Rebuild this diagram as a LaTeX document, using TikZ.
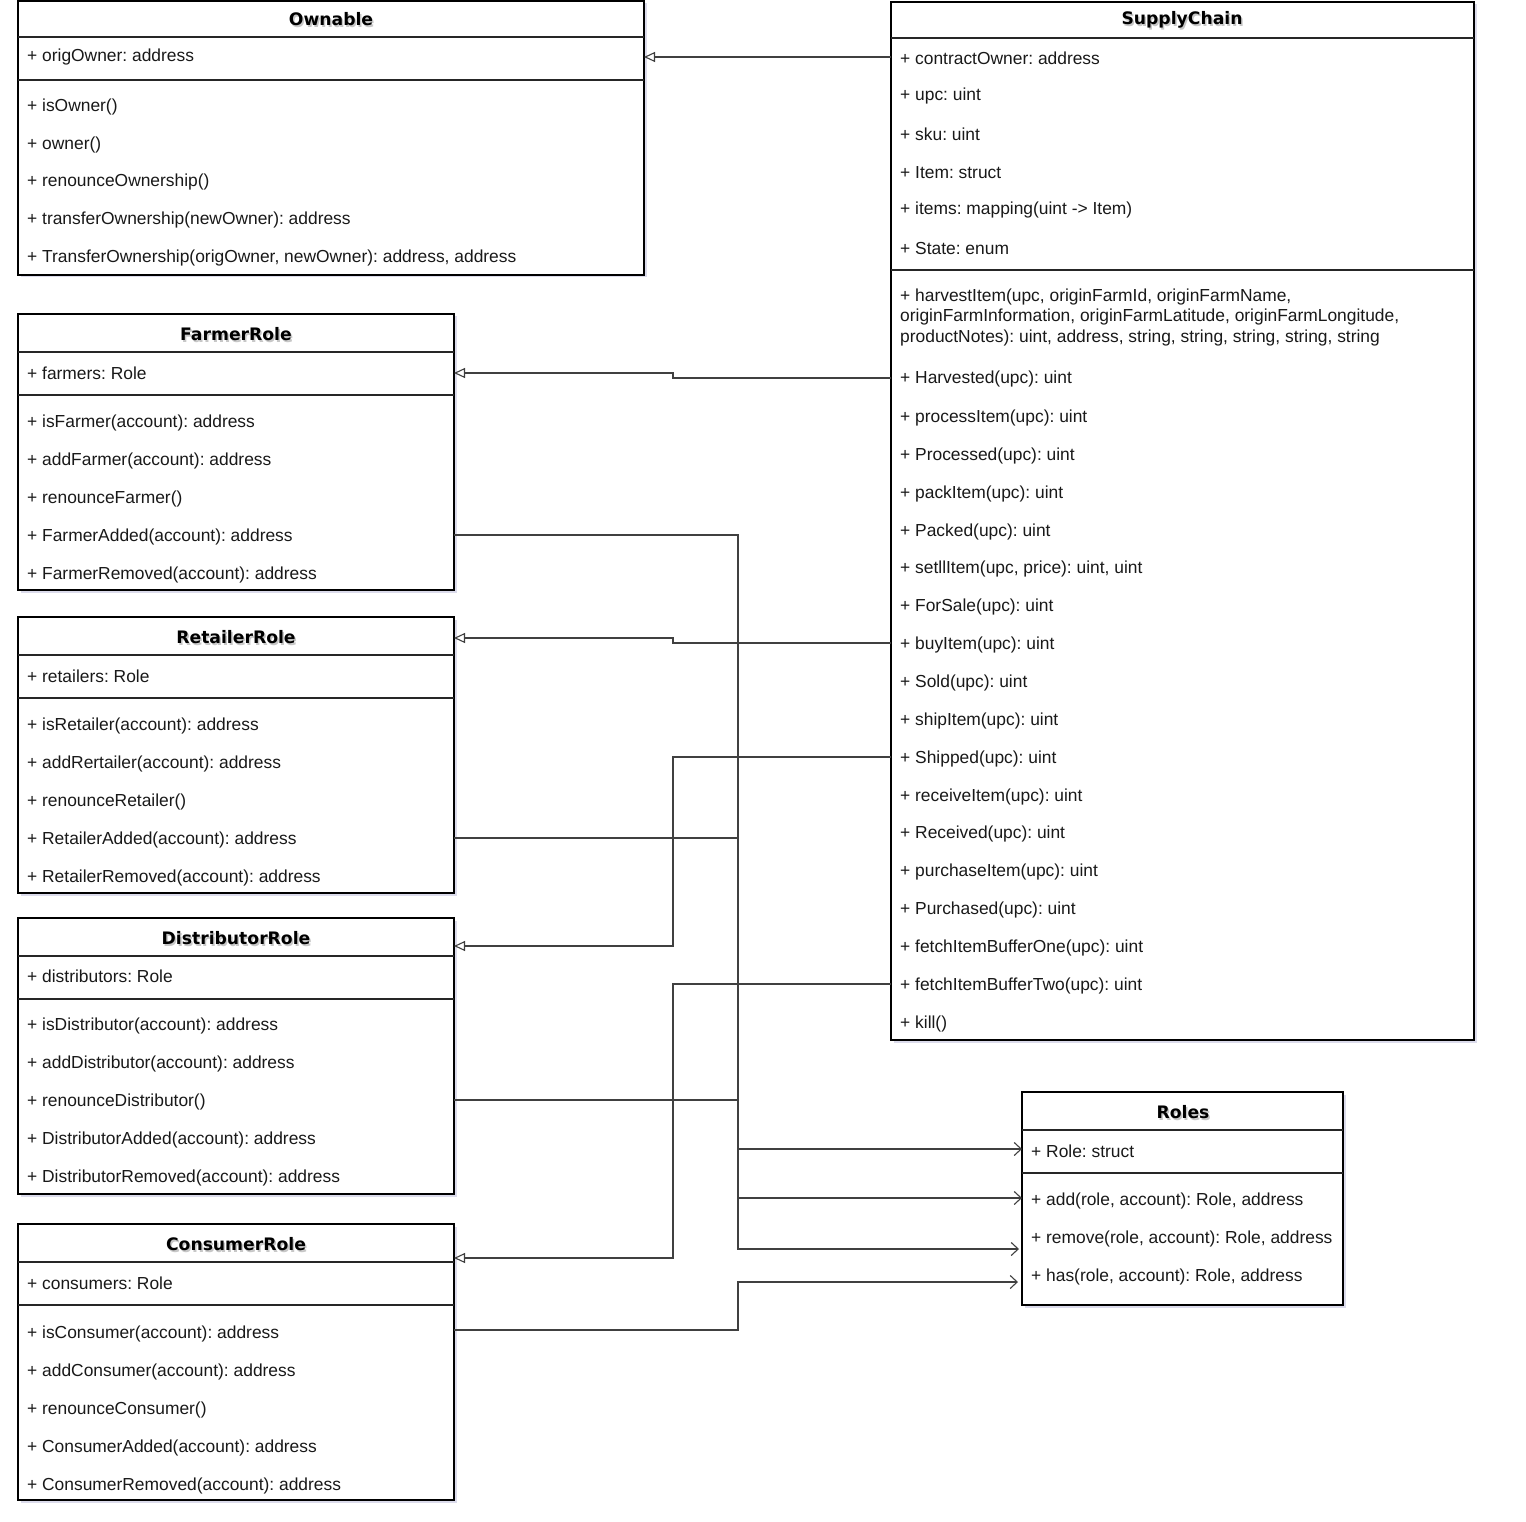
\documentclass[tikz,border=0pt]{standalone}
\usepackage{fontspec}
\setmainfont{Liberation Sans}
\newfontfamily\ttlfont{DejaVu Sans}
\usetikzlibrary{arrows.meta,shadows,calc}
\begin{document}
\begin{tikzpicture}[x=1pt,y=-1pt,
  box/.style={draw=black, line width=1.3pt, fill=white, inner sep=0pt, outer sep=0pt, anchor=north west,
    drop shadow={shadow xshift=2.5pt, shadow yshift=-2.5pt, opacity=0.22, fill=blue!30!gray}},
  txt/.style={anchor=west, inner sep=0pt, yshift=-1.5pt, align=left, text=black!90, font=\fontsize{17.4}{20.5}\selectfont\frenchspacing},
  ttl/.style={inner sep=0pt, font=\ttlfont\bfseries\fontsize{17.2}{20}\selectfont},
  ttlsh/.style={inner sep=0pt, text=black, opacity=0.22, font=\ttlfont\bfseries\fontsize{17.2}{20}\selectfont},
  sepl/.style={line width=1.2pt, draw=black!85},
  inh/.style={draw=black!75, line width=1.1pt, -{Triangle[open, length=11pt, width=10pt, line width=1.1pt]}},
  dep/.style={draw=black!75, line width=1.1pt, -{Straight Barb[length=7pt, width=13pt, line width=1.1pt]}}
]
\useasboundingbox (0,0) rectangle (1526,1522);
\coordinate (j1) at (673,0);
\coordinate (j2) at (738,0);

% ---------------- Ownable
\node[box, minimum width=626pt, minimum height=274pt] (own) at (18,1) {};
\node[ttlsh] (own-ts) at (332.5,21) {Ownable};
\node[ttl] (own-t) at (331,19) {Ownable};
\draw[sepl] (own.west |- 0,37) -- (own.east |- 0,37);
\draw[sepl] (own.west |- 0,80) -- (own.east |- 0,80);
\node[txt] (own-a1) at (27,56) {+ origOwner: address};
\node[txt] (own-m1) at (27,105) {+ isOwner()};
\node[txt] (own-m2) at (27,143) {+ owner()};
\node[txt] (own-m3) at (27,181) {+ renounceOwnership()};
\node[txt] (own-m4) at (27,219) {+ transferOwnership(newOwner): address};
\node[txt] (own-m5) at (27,257) {+ TransferOwnership(origOwner, newOwner): address, address};

% ---------------- SupplyChain
\node[box, minimum width=583pt, minimum height=1038pt] (sc) at (891,2) {};
\node[ttlsh] (sc-ts) at (1183.5,22) {SupplyChain};
\node[ttl] (sc-t) at (1182,20) {SupplyChain};
\draw[sepl] (sc.west |- 0,38) -- (sc.east |- 0,38);
\draw[sepl] (sc.west |- 0,270) -- (sc.east |- 0,270);
\node[txt] (sc-a1) at (900,57) {+ contractOwner: address};
\node[txt] (sc-a2) at (900,95) {+ upc: uint};
\node[txt] (sc-a3) at (900,133) {+ sku: uint};
\node[txt] (sc-a4) at (900,171) {+ Item: struct};
\node[txt] (sc-a5) at (900,209) {+ items: mapping(uint -> Item)};
\node[txt] (sc-a6) at (900,247) {+ State: enum};
\node[txt] (sc-m1) at (900,316) {+ harvestItem(upc, originFarmId, originFarmName,\\originFarmInformation, originFarmLatitude, originFarmLongitude,\\productNotes): uint, address, string, string, string, string, string};
\node[txt] (sc-m2) at (900,378) {+ Harvested(upc): uint};
\node[txt] (sc-m3) at (900,416) {+ processItem(upc): uint};
\node[txt] (sc-m4) at (900,454) {+ Processed(upc): uint};
\node[txt] (sc-m5) at (900,492) {+ packItem(upc): uint};
\node[txt] (sc-m6) at (900,530) {+ Packed(upc): uint};
\node[txt] (sc-m7) at (900,567) {+ setllItem(upc, price): uint, uint};
\node[txt] (sc-m8) at (900,605) {+ ForSale(upc): uint};
\node[txt] (sc-m9) at (900,643) {+ buyItem(upc): uint};
\node[txt] (sc-m10) at (900,681) {+ Sold(upc): uint};
\node[txt] (sc-m11) at (900,719) {+ shipItem(upc): uint};
\node[txt] (sc-m12) at (900,757) {+ Shipped(upc): uint};
\node[txt] (sc-m13) at (900,795) {+ receiveItem(upc): uint};
\node[txt] (sc-m14) at (900,832) {+ Received(upc): uint};
\node[txt] (sc-m15) at (900,870) {+ purchaseItem(upc): uint};
\node[txt] (sc-m16) at (900,908) {+ Purchased(upc): uint};
\node[txt] (sc-m17) at (900,946) {+ fetchItemBufferOne(upc): uint};
\node[txt] (sc-m18) at (900,984) {+ fetchItemBufferTwo(upc): uint};
\node[txt] (sc-m19) at (900,1022) {+ kill()};

% ---------------- FarmerRole
\node[box, minimum width=436pt, minimum height=276pt] (far) at (18,314) {};
\node[ttlsh] (far-ts) at (237.5,336) {FarmerRole};
\node[ttl] (far-t) at (236,334) {FarmerRole};
\draw[sepl] (far.west |- 0,352) -- (far.east |- 0,352);
\draw[sepl] (far.west |- 0,395) -- (far.east |- 0,395);
\node[txt] (far-a1) at (27,372) {+ farmers: Role};
\node[txt] (far-m1) at (27,421) {+ isFarmer(account): address};
\node[txt] (far-m2) at (27,459) {+ addFarmer(account): address};
\node[txt] (far-m3) at (27,497) {+ renounceFarmer()};
\node[txt] (far-m4) at (27,535) {+ FarmerAdded(account): address};
\node[txt] (far-m5) at (27,573) {+ FarmerRemoved(account): address};

% ---------------- RetailerRole
\node[box, minimum width=436pt, minimum height=276pt] (ret) at (18,617) {};
\node[ttlsh] (ret-ts) at (237.5,639) {RetailerRole};
\node[ttl] (ret-t) at (236,637) {RetailerRole};
\draw[sepl] (ret.west |- 0,655) -- (ret.east |- 0,655);
\draw[sepl] (ret.west |- 0,698) -- (ret.east |- 0,698);
\node[txt] (ret-a1) at (27,675) {+ retailers: Role};
\node[txt] (ret-m1) at (27,724) {+ isRetailer(account): address};
\node[txt] (ret-m2) at (27,762) {+ addRertailer(account): address};
\node[txt] (ret-m3) at (27,800) {+ renounceRetailer()};
\node[txt] (ret-m4) at (27,838) {+ RetailerAdded(account): address};
\node[txt] (ret-m5) at (27,876) {+ RetailerRemoved(account): address};

% ---------------- DistributorRole
\node[box, minimum width=436pt, minimum height=276pt] (dis) at (18,918) {};
\node[ttlsh] (dis-ts) at (237.5,940) {DistributorRole};
\node[ttl] (dis-t) at (236,938) {DistributorRole};
\draw[sepl] (dis.west |- 0,956) -- (dis.east |- 0,956);
\draw[sepl] (dis.west |- 0,999) -- (dis.east |- 0,999);
\node[txt] (dis-a1) at (27,975) {+ distributors: Role};
\node[txt] (dis-m1) at (27,1024) {+ isDistributor(account): address};
\node[txt] (dis-m2) at (27,1062) {+ addDistributor(account): address};
\node[txt] (dis-m3) at (27,1100) {+ renounceDistributor()};
\node[txt] (dis-m4) at (27,1138) {+ DistributorAdded(account): address};
\node[txt] (dis-m5) at (27,1176) {+ DistributorRemoved(account): address};

% ---------------- ConsumerRole
\node[box, minimum width=436pt, minimum height=276pt] (con) at (18,1224) {};
\node[ttlsh] (con-ts) at (237.5,1246) {ConsumerRole};
\node[ttl] (con-t) at (236,1244) {ConsumerRole};
\draw[sepl] (con.west |- 0,1262) -- (con.east |- 0,1262);
\draw[sepl] (con.west |- 0,1305) -- (con.east |- 0,1305);
\node[txt] (con-a1) at (27,1282) {+ consumers: Role};
\node[txt] (con-m1) at (27,1332) {+ isConsumer(account): address};
\node[txt] (con-m2) at (27,1370) {+ addConsumer(account): address};
\node[txt] (con-m3) at (27,1408) {+ renounceConsumer()};
\node[txt] (con-m4) at (27,1446) {+ ConsumerAdded(account): address};
\node[txt] (con-m5) at (27,1484) {+ ConsumerRemoved(account): address};

% ---------------- Roles
\node[box, minimum width=321pt, minimum height=213pt] (rol) at (1022,1092) {};
\node[ttlsh] (rol-ts) at (1184.5,1114) {Roles};
\node[ttl] (rol-t) at (1183,1112) {Roles};
\draw[sepl] (rol.west |- 0,1130) -- (rol.east |- 0,1130);
\draw[sepl] (rol.west |- 0,1173) -- (rol.east |- 0,1173);
\node[txt] (rol-a1) at (1031,1150) {+ Role: struct};
\node[txt] (rol-m1) at (1031,1199) {+ add(role, account): Role, address};
\node[txt] (rol-m2) at (1031,1237) {+ remove(role, account): Role, address};
\node[txt] (rol-m3) at (1031,1275) {+ has(role, account): Role, address};

% ---------------- inheritance connectors
\draw[inh] ([yshift=1.5pt]sc.west |- sc-a1) -- ([yshift=1.5pt]own.east |- sc-a1);
\draw[inh] ([yshift=1.5pt]sc.west |- sc-m2) -- ([yshift=1.5pt]j1 |- sc-m2) -- ([yshift=0.5pt]j1 |- far-a1) -- ([yshift=0.5pt]far.east |- far-a1);
\draw[inh] ([yshift=1.5pt]sc.west |- sc-m9) -- ([yshift=1.5pt]j1 |- sc-m9) -- ([yshift=-1pt]j1 |- ret-t) -- ([yshift=-1pt]ret.east |- ret-t);
\draw[inh] ([yshift=1.5pt]sc.west |- sc-m12) -- ([yshift=1.5pt]j1 |- sc-m12) -- ([yshift=-28pt]j1 |- dis.north) -- ([yshift=-28pt]dis.north east);
\draw[inh] ([yshift=1.5pt]sc.west |- sc-m18) -- ([yshift=1.5pt]j1 |- sc-m18) -- ([yshift=-34pt]j1 |- con.north) -- ([yshift=-34pt]con.north east);

% ---------------- dependency connectors
\draw[dep] ([yshift=1.5pt]far.east |- far-m4) -- ([yshift=1.5pt]j2 |- far-m4) -- ([yshift=2.5pt]j2 |- rol-a1) -- ([yshift=2.5pt]rol.west |- rol-a1);
\draw[dep] ([yshift=1.5pt]ret.east |- ret-m4) -- ([yshift=1.5pt]j2 |- ret-m4) -- ([yshift=2.5pt]j2 |- rol-m1) -- ([yshift=2.5pt]rol.west |- rol-m1);
\draw[dep] ([yshift=1.5pt]dis.east |- dis-m3) -- ([yshift=1.5pt]j2 |- dis-m3) -- ([yshift=-157pt]j2 |- rol.north) -- ([xshift=-3pt,yshift=-157pt]rol.north west);
\draw[dep] ([yshift=3.5pt]con.east |- con-m1) -- ([yshift=3.5pt]j2 |- con-m1) -- ([yshift=-190pt]j2 |- rol.north) -- ([xshift=-4pt,yshift=-190pt]rol.north west);
\end{tikzpicture}
\end{document}
